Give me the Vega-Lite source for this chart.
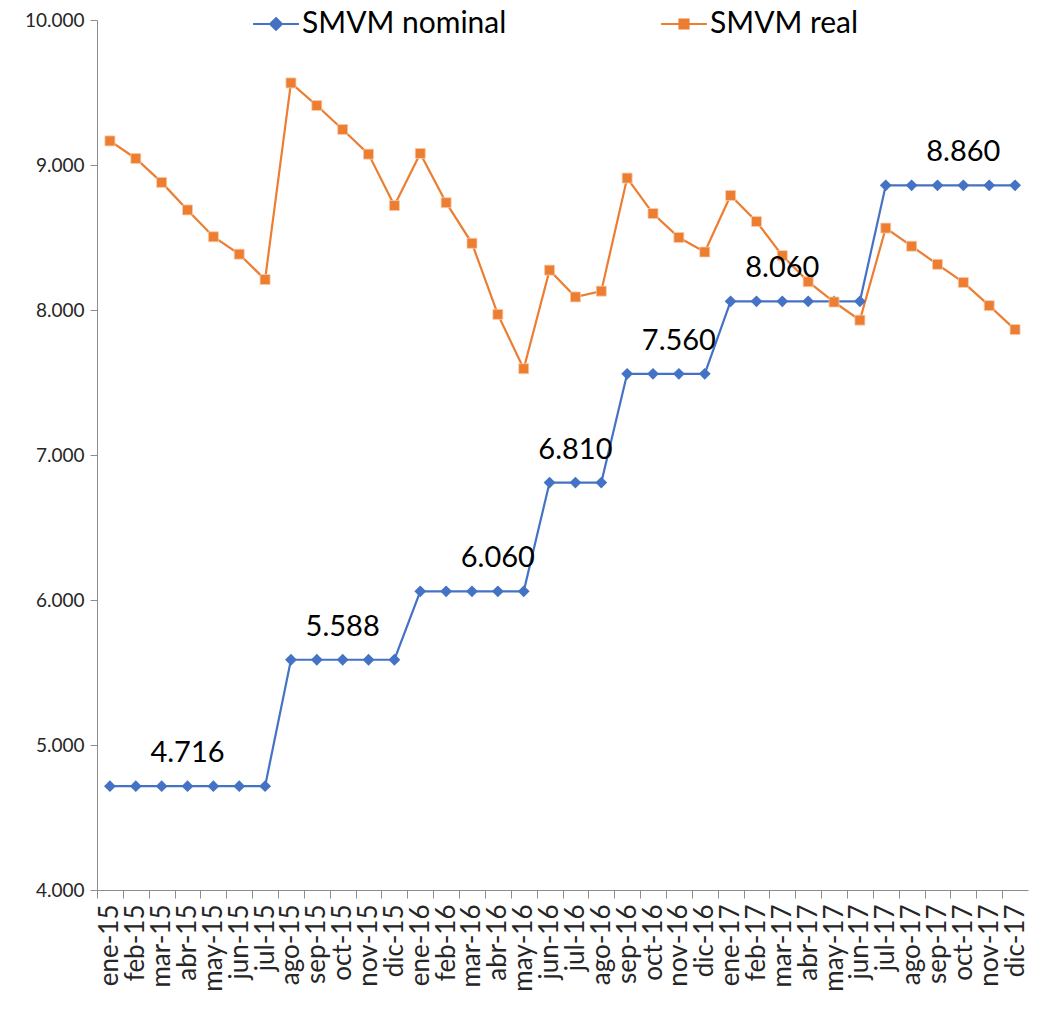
{
  "$schema": "https://vega.github.io/schema/vega-lite/v6.json",
  "autosize": {"type": "none"},
  "padding": {"left": 97, "top": 20, "right": 10, "bottom": 126},
  "width": 931,
  "height": 870,
  "background": "white",
  "config": {
    "view": {"stroke": null},
    "font": "Lato",
    "axis": {"labelFont": "Lato", "labelColor": "#262626", "domainColor": "#8c8c8c", "tickColor": "#8c8c8c", "grid": false, "title": null}
  },
  "datasets": {
    "series": [
      {"mes": "ene-15", "serie": "SMVM nominal", "valor": 4716},
      {"mes": "feb-15", "serie": "SMVM nominal", "valor": 4716},
      {"mes": "mar-15", "serie": "SMVM nominal", "valor": 4716},
      {"mes": "abr-15", "serie": "SMVM nominal", "valor": 4716},
      {"mes": "may-15", "serie": "SMVM nominal", "valor": 4716},
      {"mes": "jun-15", "serie": "SMVM nominal", "valor": 4716},
      {"mes": "jul-15", "serie": "SMVM nominal", "valor": 4716},
      {"mes": "ago-15", "serie": "SMVM nominal", "valor": 5588},
      {"mes": "sep-15", "serie": "SMVM nominal", "valor": 5588},
      {"mes": "oct-15", "serie": "SMVM nominal", "valor": 5588},
      {"mes": "nov-15", "serie": "SMVM nominal", "valor": 5588},
      {"mes": "dic-15", "serie": "SMVM nominal", "valor": 5588},
      {"mes": "ene-16", "serie": "SMVM nominal", "valor": 6060},
      {"mes": "feb-16", "serie": "SMVM nominal", "valor": 6060},
      {"mes": "mar-16", "serie": "SMVM nominal", "valor": 6060},
      {"mes": "abr-16", "serie": "SMVM nominal", "valor": 6060},
      {"mes": "may-16", "serie": "SMVM nominal", "valor": 6060},
      {"mes": "jun-16", "serie": "SMVM nominal", "valor": 6810},
      {"mes": "jul-16", "serie": "SMVM nominal", "valor": 6810},
      {"mes": "ago-16", "serie": "SMVM nominal", "valor": 6810},
      {"mes": "sep-16", "serie": "SMVM nominal", "valor": 7560},
      {"mes": "oct-16", "serie": "SMVM nominal", "valor": 7560},
      {"mes": "nov-16", "serie": "SMVM nominal", "valor": 7560},
      {"mes": "dic-16", "serie": "SMVM nominal", "valor": 7560},
      {"mes": "ene-17", "serie": "SMVM nominal", "valor": 8060},
      {"mes": "feb-17", "serie": "SMVM nominal", "valor": 8060},
      {"mes": "mar-17", "serie": "SMVM nominal", "valor": 8060},
      {"mes": "abr-17", "serie": "SMVM nominal", "valor": 8060},
      {"mes": "may-17", "serie": "SMVM nominal", "valor": 8060},
      {"mes": "jun-17", "serie": "SMVM nominal", "valor": 8060},
      {"mes": "jul-17", "serie": "SMVM nominal", "valor": 8860},
      {"mes": "ago-17", "serie": "SMVM nominal", "valor": 8860},
      {"mes": "sep-17", "serie": "SMVM nominal", "valor": 8860},
      {"mes": "oct-17", "serie": "SMVM nominal", "valor": 8860},
      {"mes": "nov-17", "serie": "SMVM nominal", "valor": 8860},
      {"mes": "dic-17", "serie": "SMVM nominal", "valor": 8860},
      {"mes": "ene-15", "serie": "SMVM real", "valor": 9166},
      {"mes": "feb-15", "serie": "SMVM real", "valor": 9045},
      {"mes": "mar-15", "serie": "SMVM real", "valor": 8880},
      {"mes": "abr-15", "serie": "SMVM real", "valor": 8690},
      {"mes": "may-15", "serie": "SMVM real", "valor": 8505},
      {"mes": "jun-15", "serie": "SMVM real", "valor": 8385},
      {"mes": "jul-15", "serie": "SMVM real", "valor": 8210},
      {"mes": "ago-15", "serie": "SMVM real", "valor": 9566},
      {"mes": "sep-15", "serie": "SMVM real", "valor": 9410},
      {"mes": "oct-15", "serie": "SMVM real", "valor": 9245},
      {"mes": "nov-15", "serie": "SMVM real", "valor": 9075},
      {"mes": "dic-15", "serie": "SMVM real", "valor": 8720},
      {"mes": "ene-16", "serie": "SMVM real", "valor": 9080},
      {"mes": "feb-16", "serie": "SMVM real", "valor": 8740},
      {"mes": "mar-16", "serie": "SMVM real", "valor": 8460},
      {"mes": "abr-16", "serie": "SMVM real", "valor": 7970},
      {"mes": "may-16", "serie": "SMVM real", "valor": 7595},
      {"mes": "jun-16", "serie": "SMVM real", "valor": 8275},
      {"mes": "jul-16", "serie": "SMVM real", "valor": 8090},
      {"mes": "ago-16", "serie": "SMVM real", "valor": 8130},
      {"mes": "sep-16", "serie": "SMVM real", "valor": 8910},
      {"mes": "oct-16", "serie": "SMVM real", "valor": 8665},
      {"mes": "nov-16", "serie": "SMVM real", "valor": 8500},
      {"mes": "dic-16", "serie": "SMVM real", "valor": 8400},
      {"mes": "ene-17", "serie": "SMVM real", "valor": 8790},
      {"mes": "feb-17", "serie": "SMVM real", "valor": 8610},
      {"mes": "mar-17", "serie": "SMVM real", "valor": 8375},
      {"mes": "abr-17", "serie": "SMVM real", "valor": 8195},
      {"mes": "may-17", "serie": "SMVM real", "valor": 8055},
      {"mes": "jun-17", "serie": "SMVM real", "valor": 7930},
      {"mes": "jul-17", "serie": "SMVM real", "valor": 8565},
      {"mes": "ago-17", "serie": "SMVM real", "valor": 8440},
      {"mes": "sep-17", "serie": "SMVM real", "valor": 8315},
      {"mes": "oct-17", "serie": "SMVM real", "valor": 8190},
      {"mes": "nov-17", "serie": "SMVM real", "valor": 8030},
      {"mes": "dic-17", "serie": "SMVM real", "valor": 7865}
    ],
    "etiquetas": [
      {"mes": "abr-15", "valor": 4716, "texto": "4.716"},
      {"mes": "oct-15", "valor": 5588, "texto": "5.588"},
      {"mes": "abr-16", "valor": 6060, "texto": "6.060"},
      {"mes": "jul-16", "valor": 6810, "texto": "6.810"},
      {"mes": "nov-16", "valor": 7560, "texto": "7.560"},
      {"mes": "mar-17", "valor": 8060, "texto": "8.060"},
      {"mes": "oct-17", "valor": 8860, "texto": "8.860"}
    ]
  },
  "encoding": {
    "x": {
      "field": "mes",
      "type": "nominal",
      "scale": {
        "type": "band",
        "paddingInner": 0,
        "paddingOuter": 0,
        "domain": ["ene-15","feb-15","mar-15","abr-15","may-15","jun-15","jul-15","ago-15","sep-15","oct-15","nov-15","dic-15","ene-16","feb-16","mar-16","abr-16","may-16","jun-16","jul-16","ago-16","sep-16","oct-16","nov-16","dic-16","ene-17","feb-17","mar-17","abr-17","may-17","jun-17","jul-17","ago-17","sep-17","oct-17","nov-17","dic-17"]
      },
      "axis": {
        "labelAngle": -90,
        "labelFontSize": 26,
        "labelOverlap": false,
        "labelPadding": 6,
        "tickSize": 8,
        "tickOffset": -12.93,
        "labelOffset": 12.93,
        "labelBaseline": "middle"
      }
    },
    "y": {
      "field": "valor",
      "type": "quantitative",
      "scale": {"domain": [4000, 10000], "nice": false, "zero": false},
      "axis": {
        "values": [4000, 5000, 6000, 7000, 8000, 9000, 10000],
        "labelExpr": "replace(format(datum.value, ',.0f'), ',', '.')",
        "labelFontSize": 19,
        "labelPadding": 6,
        "tickSize": 7
      }
    }
  },
  "layer": [
    {
      "data": {"name": "series"},
      "mark": {"type": "line", "strokeWidth": 2.2},
      "encoding": {
        "color": {
          "field": "serie",
          "type": "nominal",
          "scale": {"domain": ["SMVM nominal", "SMVM real"], "range": ["#4472C4", "#ED7D31"]},
          "legend": {
            "title": null,
            "orient": "none",
            "direction": "horizontal",
            "legendX": 155,
            "legendY": -20,
            "labelFont": "Lato",
            "labelFontSize": 30,
            "labelColor": "#000000",
            "labelLimit": 0,
            "labelOffset": 2,
            "columnPadding": 150,
            "symbolSize": 2100,
            "symbolStrokeWidth": 2,
            "encode": {
              "symbols": {
                "update": {
                  "shape": {"signal": "datum.value === 'SMVM nominal' ? 'M-1,0L1,0M0,-0.26L0.26,0L0,0.26L-0.26,0Z' : 'M-1,0L1,0M-0.2,-0.2L0.2,-0.2L0.2,0.2L-0.2,0.2Z'"},
                  "size": {"value": 2100},
                  "fill": {"signal": "datum.value === 'SMVM nominal' ? '#4472C4' : '#ED7D31'"},
                  "stroke": {"signal": "datum.value === 'SMVM nominal' ? '#4472C4' : '#ED7D31'"},
                  "strokeWidth": {"value": 2},
                  "opacity": {"value": 1}
                }
              }
            }
          }
        }
      }
    },
    {
      "data": {"name": "series"},
      "transform": [{"filter": "datum.serie === 'SMVM nominal'"}],
      "mark": {"type": "point", "filled": true, "opacity": 1, "shape": "diamond", "size": 140, "color": "#4472C4"}
    },
    {
      "data": {"name": "series"},
      "transform": [{"filter": "datum.serie === 'SMVM real'"}],
      "mark": {"type": "point", "filled": true, "opacity": 1, "shape": "square", "size": 100, "color": "#ED7D31", "stroke": "#F8CBAD", "strokeWidth": 0.8}
    },
    {
      "data": {"name": "etiquetas"},
      "mark": {"type": "text", "font": "Lato", "fontSize": 29, "color": "#000000", "dy": -33, "baseline": "middle", "align": "center"},
      "encoding": {
        "text": {"field": "texto", "type": "nominal"}
      }
    }
  ]
}
